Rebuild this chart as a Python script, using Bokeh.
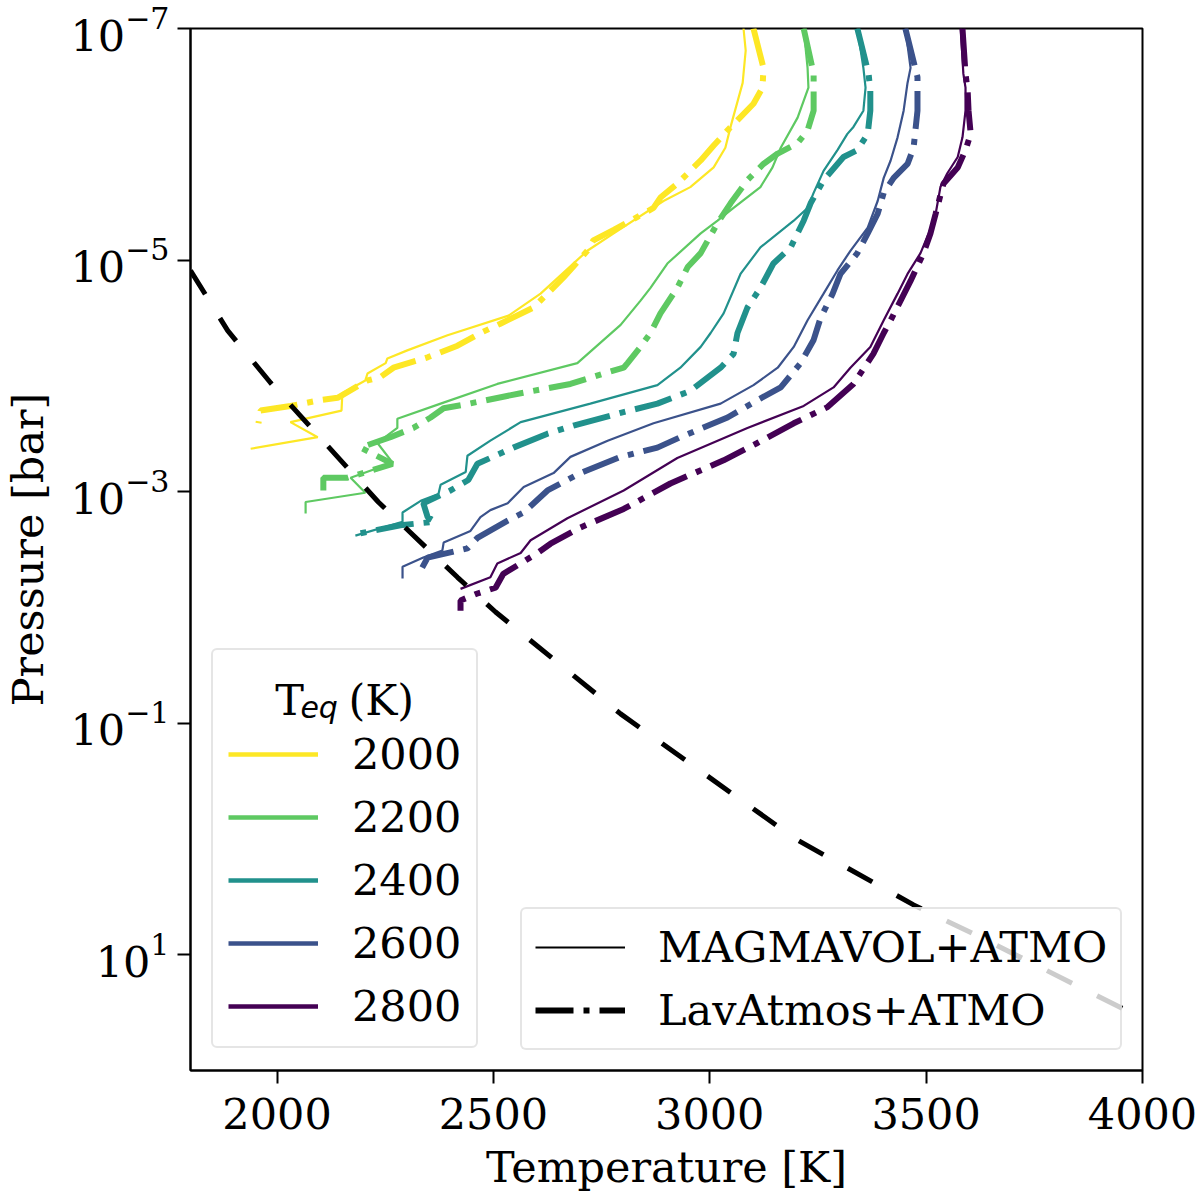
import numpy as np
from bokeh.plotting import figure
from bokeh.models import Range1d, FixedTicker, Legend, LegendItem, Label
from bokeh.embed import file_html
from bokeh.resources import INLINE

# ---------------- data ----------------
teq_labels = ["2000", "2200", "2400", "2600", "2800"]
teq_colors = ["#fde725", "#5ec962", "#21918c", "#3b528b", "#440154"]
model_labels = ["MAGMAVOL+ATMO", "LavAtmos+ATMO"]

# MAGMAVOL+ATMO profiles: temperature [K], log10 pressure [bar]
magma_T_2000 = [3078, 3083, 3076, 3048, 3036, 3009, 2955, 2893, 2778, 2717, 2609, 2535, 2394, 2301, 2255, 2251, 2209, 2204, 2151, 2149, 2031, 2094, 1939]
magma_logP_2000 = [-7.00, -6.81, -6.53, -6.15, -5.97, -5.80, -5.63, -5.51, -5.23, -5.08, -4.71, -4.52, -4.35, -4.22, -4.15, -4.11, -4.02, -3.96, -3.85, -3.70, -3.60, -3.47, -3.37]
magma_T_2200 = [3217, 3226, 3228, 3203, 3164, 3145, 3117, 3055, 3018, 2979, 2902, 2863, 2840, 2794, 2694, 2509, 2378, 2278, 2278, 2232, 2267, 2170, 2204, 2066, 2066]
magma_logP_2200 = [-7.00, -6.66, -6.49, -6.23, -5.97, -5.80, -5.63, -5.45, -5.34, -5.23, -4.97, -4.76, -4.65, -4.44, -4.11, -3.93, -3.76, -3.63, -3.55, -3.42, -3.25, -3.12, -2.99, -2.91, -2.81]
magma_T_2400 = [3341, 3355, 3360, 3355, 3332, 3318, 3295, 3263, 3240, 3226, 3194, 3117, 3071, 3032, 3002, 2979, 2932, 2879, 2724, 2563, 2493, 2440, 2436, 2378, 2373, 2332, 2290, 2290, 2181]
magma_logP_2400 = [-7.00, -6.66, -6.49, -6.29, -6.15, -6.09, -5.95, -5.77, -5.58, -5.45, -5.34, -5.11, -4.88, -4.54, -4.37, -4.25, -4.07, -3.92, -3.76, -3.60, -3.44, -3.31, -3.17, -3.06, -2.98, -2.92, -2.82, -2.74, -2.62]
magma_T_2600 = [3452, 3464, 3457, 3448, 3434, 3418, 3402, 3388, 3365, 3325, 3295, 3263, 3226, 3194, 3157, 3101, 3025, 2870, 2764, 2678, 2639, 2570, 2533, 2493, 2470, 2447, 2385, 2382, 2338, 2290, 2290]
magma_logP_2600 = [-7.00, -6.66, -6.53, -6.29, -6.06, -5.86, -5.71, -5.51, -5.28, -5.08, -4.91, -4.71, -4.48, -4.25, -4.07, -3.92, -3.76, -3.59, -3.44, -3.30, -3.16, -3.04, -2.90, -2.84, -2.78, -2.66, -2.56, -2.49, -2.43, -2.35, -2.25]
magma_T_2800 = [3580, 3586, 3591, 3591, 3584, 3573, 3549, 3533, 3522, 3506, 3487, 3457, 3434, 3402, 3371, 3325, 3286, 3217, 3087, 2925, 2801, 2671, 2586, 2563, 2509, 2493, 2424]
magma_logP_2800 = [-7.00, -6.61, -6.49, -6.29, -6.06, -5.89, -5.75, -5.63, -5.40, -5.23, -5.06, -4.88, -4.71, -4.48, -4.25, -4.07, -3.90, -3.74, -3.55, -3.29, -3.01, -2.77, -2.58, -2.47, -2.38, -2.26, -2.16]

# LavAtmos+ATMO profiles: temperature [K], log10 pressure [bar]
lav_T_2000 = [3101, 3124, 3122, 3101, 3041, 3009, 2979, 2925, 2886, 2870, 2778, 2731, 2717, 2662, 2625, 2593, 2516, 2470, 2417, 2348, 2269, 2239, 2209, 2140, 2100, 2031, 1962, 1957]
lav_logP_2000 = [-7.00, -6.66, -6.49, -6.35, -6.12, -5.99, -5.86, -5.66, -5.54, -5.45, -5.26, -5.17, -5.08, -4.85, -4.71, -4.59, -4.45, -4.37, -4.26, -4.16, -4.07, -3.99, -3.96, -3.81, -3.79, -3.74, -3.70, -3.59]
lav_T_2200 = [3217, 3240, 3240, 3226, 3203, 3157, 3124, 3087, 3048, 3018, 2979, 2949, 2925, 2886, 2863, 2840, 2810, 2801, 2764, 2678, 2563, 2431, 2385, 2355, 2315, 2262, 2223, 2193, 2267, 2163, 2107, 2107]
lav_logP_2200 = [-7.00, -6.61, -6.29, -6.12, -6.01, -5.92, -5.83, -5.69, -5.49, -5.32, -5.06, -4.94, -4.76, -4.54, -4.37, -4.25, -4.11, -4.07, -4.03, -3.93, -3.85, -3.75, -3.72, -3.64, -3.55, -3.47, -3.42, -3.38, -3.24, -3.12, -3.12, -3.01]
lav_T_2400 = [3341, 3367, 3371, 3371, 3365, 3341, 3309, 3263, 3233, 3217, 3187, 3147, 3117, 3087, 3064, 3055, 3025, 2955, 2879, 2794, 2685, 2625, 2546, 2463, 2442, 2401, 2338, 2348, 2366, 2285, 2193]
lav_logP_2400 = [-7.00, -6.61, -6.46, -6.29, -6.09, -5.95, -5.89, -5.69, -5.49, -5.34, -5.11, -4.97, -4.76, -4.59, -4.37, -4.19, -4.07, -3.87, -3.76, -3.68, -3.57, -3.50, -3.38, -3.24, -3.10, -3.01, -2.90, -2.78, -2.74, -2.71, -2.64]
lav_T_2600 = [3452, 3480, 3480, 3471, 3457, 3425, 3402, 3388, 3365, 3341, 3302, 3284, 3256, 3240, 3210, 3164, 3110, 3041, 2932, 2879, 2794, 2701, 2625, 2570, 2533, 2463, 2440, 2348, 2332]
lav_logP_2600 = [-7.00, -6.58, -6.29, -5.97, -5.83, -5.71, -5.58, -5.40, -5.23, -5.06, -4.88, -4.71, -4.50, -4.31, -4.11, -3.90, -3.79, -3.64, -3.47, -3.38, -3.30, -3.16, -3.01, -2.82, -2.75, -2.60, -2.51, -2.43, -2.32]
lav_T_2800 = [3584, 3591, 3596, 3598, 3603, 3591, 3573, 3540, 3522, 3510, 3494, 3464, 3441, 3418, 3402, 3378, 3332, 3272, 3194, 3110, 3032, 2909, 2801, 2701, 2632, 2602, 2563, 2523, 2505, 2463, 2424, 2424]
lav_logP_2800 = [-7.00, -6.61, -6.46, -6.29, -6.09, -5.95, -5.80, -5.66, -5.40, -5.23, -5.06, -4.82, -4.65, -4.48, -4.37, -4.19, -3.93, -3.73, -3.59, -3.42, -3.27, -3.07, -2.85, -2.69, -2.55, -2.47, -2.38, -2.29, -2.17, -2.12, -2.06, -1.97]

# black dashed reference curve
cond_T = [1800, 1886, 1985, 2234, 2417, 2505, 2794, 3198, 3471, 3626, 3962]
cond_logP = [-4.91, -4.39, -3.94, -2.91, -2.26, -1.96, -1.08, 0.00, 0.57, 0.85, 1.48]

x_ticks = [2000, 2500, 3000, 3500, 4000]
y_ticks = [1e-7, 1e-5, 1e-3, 1e-1, 1e1]

magma_T = [magma_T_2000, magma_T_2200, magma_T_2400, magma_T_2600, magma_T_2800]
magma_logP = [magma_logP_2000, magma_logP_2200, magma_logP_2400, magma_logP_2600, magma_logP_2800]
lav_T = [lav_T_2000, lav_T_2200, lav_T_2400, lav_T_2600, lav_T_2800]
lav_logP = [lav_logP_2000, lav_logP_2200, lav_logP_2400, lav_logP_2600, lav_logP_2800]

FONT = "DejaVu Serif"
FS = "43px"
DASHDOT = "38 10 6 10"

p = figure(width=1200, height=1199,
           x_range=Range1d(1800, 4000), y_range=Range1d(1e2, 1e-7),
           y_axis_type="log", output_backend="svg", toolbar_location=None,
           min_border_left=190, min_border_right=58, min_border_top=28,
           min_border_bottom=129)
p.background_fill_color = "white"
p.border_fill_color = "white"
p.outline_line_color = "black"
p.outline_line_width = 2
p.xgrid.visible = False
p.ygrid.visible = False

for ax in (p.xaxis[0], p.yaxis[0]):
    ax.axis_line_width = 2
    ax.major_tick_line_width = 2
    ax.major_tick_out = 13
    ax.major_tick_in = 0
    ax.minor_tick_out = 0
    ax.minor_tick_in = 0
    ax.major_label_text_font = FONT
    ax.major_label_text_font_size = FS
    ax.major_label_text_color = "black"
    ax.axis_label_text_font = FONT
    ax.axis_label_text_font_size = FS
    ax.axis_label_text_font_style = "normal"
    ax.axis_label_text_color = "black"

p.xaxis.ticker = FixedTicker(ticks=x_ticks)
p.yaxis.ticker = FixedTicker(ticks=y_ticks)
p.xaxis.axis_label = "Temperature [K]"
p.yaxis.axis_label = "Pressure [bar]"
p.xaxis.major_label_standoff = 14
p.xaxis.axis_label_standoff = 10
p.yaxis.major_label_standoff = 8
p.yaxis.axis_label_standoff = 14

# profiles
for i in range(len(teq_labels)):
    p.line(magma_T[i], 10 ** np.array(magma_logP[i]), line_color=teq_colors[i],
           line_width=2.2)
    p.line(lav_T[i], 10 ** np.array(lav_logP[i]), line_color=teq_colors[i],
           line_width=6, line_dash=DASHDOT)

p.line(cond_T, 10 ** np.array(cond_logP), line_color="black", line_width=5,
       line_dash="28 28")

# legend handles (renderers without visible data, used only for the legend glyphs)
nan2 = [np.nan, np.nan]
teq_handles = [p.line(nan2, nan2, line_color=c, line_width=4.5) for c in teq_colors]
model_handles = [p.line(nan2, nan2, line_color="black", line_width=2.2),
                 p.line(nan2, nan2, line_color="black", line_width=6, line_dash=DASHDOT)]

has_radius = "border_radius" in Legend.properties()

def style_legend(leg, standoff, pad):
    leg.label_text_font = FONT
    leg.label_text_font_size = FS
    leg.label_text_color = "black"
    leg.glyph_width = 90
    leg.glyph_height = 50
    leg.label_height = 50
    leg.label_standoff = standoff
    leg.spacing = 13
    leg.padding = pad
    leg.margin = 0
    leg.border_line_color = "#cccccc"
    leg.border_line_width = 2
    leg.background_fill_color = "white"
    leg.background_fill_alpha = 0.8
    if has_radius:
        leg.border_radius = 6

leg1 = Legend(items=[LegendItem(label=lab, renderers=[r]) for lab, r in zip(teq_labels, teq_handles)],
              location=(21, 22), title=" ")
style_legend(leg1, 34, 15)
leg1.background_fill_alpha = 0.0   # nothing lies behind it; keeps the title text crisp
leg1.title_text_font = FONT
leg1.title_text_font_size = FS
leg1.title_standoff = 14
p.add_layout(leg1)

leg2 = Legend(items=[LegendItem(label=lab, renderers=[r]) for lab, r in zip(model_labels, model_handles)],
              location=(330, 20))
style_legend(leg2, 33, 13)
p.add_layout(leg2)

# legend title T_eq (K)
p.add_layout(Label(x=1996, y=0.0635, text="T", text_font=FONT, text_font_size=FS,
                   text_baseline="alphabetic", text_color="black", level="overlay"))
p.add_layout(Label(x=2054, y=0.0731, text="eq", text_font="DejaVu Sans", text_font_size="30px",
                   text_font_style="italic", text_baseline="alphabetic", text_color="black",
                   level="overlay"))
p.add_layout(Label(x=2165, y=0.0635, text="(K)", text_font=FONT, text_font_size=FS,
                   text_baseline="alphabetic", text_color="black", level="overlay"))

open("out.html", "w").write(file_html(p, INLINE))
